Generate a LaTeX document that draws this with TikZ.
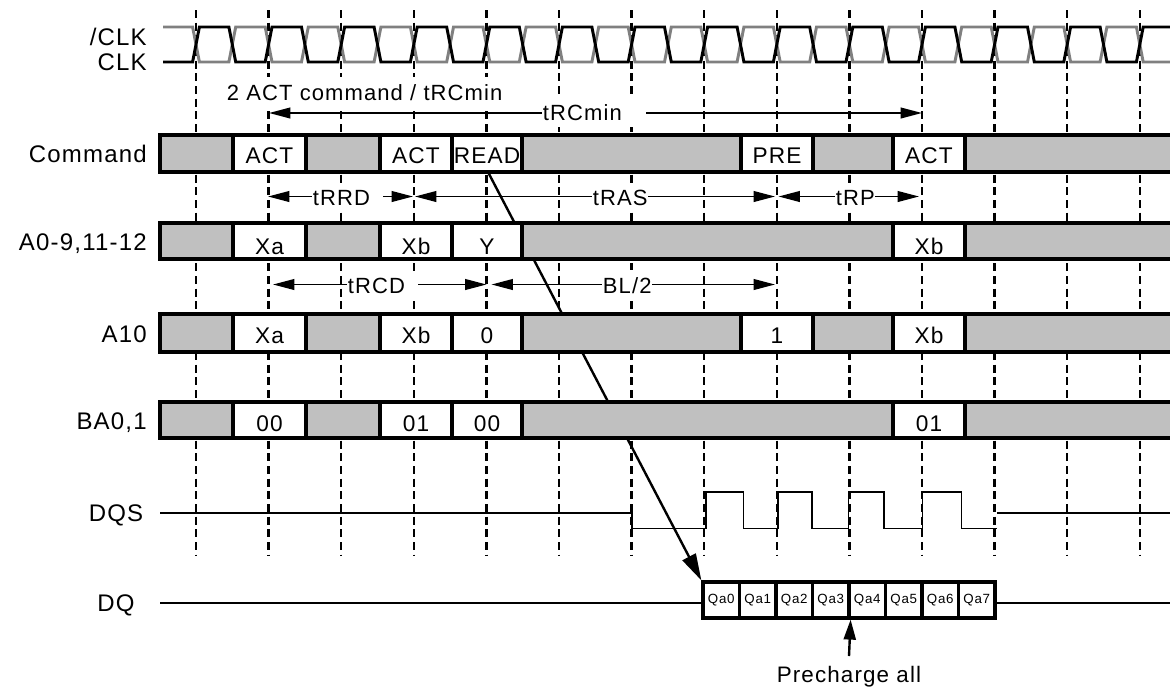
\documentclass[tikz,border=0pt]{standalone}
\usepackage{fontspec}
\setmainfont{Liberation Sans}[LetterSpace=5]
\usetikzlibrary{arrows.meta}
\pgfdeclarelayer{bg}
\pgfsetlayers{bg,main}
\definecolor{cellgray}{RGB}{192,192,192}
\definecolor{clkgray}{RGB}{128,128,128}
\tikzset{
  sig/.style={font=\fontsize{18}{21}\selectfont, inner sep=0pt, anchor=base east},
  celltxt/.style={font=\fontsize{17}{20}\selectfont, inner sep=0pt, anchor=base},
  tlabel/.style={font=\fontsize{16.5}{19}\selectfont, fill=white, inner xsep=0.5pt, inner ysep=5pt, anchor=base west},
  gridline/.style={line width=1.8pt, dash pattern=on 6pt off 3.5pt},
  clk/.style={line width=2.2pt, line join=miter},
  dim/.style={line width=1.4pt, {Triangle[length=16pt,width=8pt]}-{Triangle[length=16pt,width=8pt]}},
  cellbox/.style={draw, line width=2.4pt},
  qa/.style={draw, fill=white, line width=2.4pt, minimum width=27.4pt, minimum height=27pt, inner sep=0pt, font=\fontsize{10}{11}\selectfont},
}
\newcommand\mycells[4]{%
  \foreach \a/\b/\f/\t in {#4} {
    \draw[cellbox, fill=\f] (\a,#1) rectangle (\b,#2);
    \node[celltxt] (c-\a-#1) at ({(\a+\b)/2},#3) {\t};
  }%
}
\begin{document}
\begin{tikzpicture}[x=0.75pt,y=-0.75pt]
\useasboundingbox (0,0) rectangle (1170,686);
\clip (0,0) rectangle (1170,686);

% clock waveforms
\draw[clk, clkgray] (163,27) \foreach \k in {0,...,13} { -- ({196+72.6*\k-3.4},27) -- ({196+72.6*\k+3.4},62) -- ({232.3+72.6*\k-3.4},62) -- ({232.3+72.6*\k+3.4},27) };
\draw[clk, black] (163,62) \foreach \k in {0,...,13} { -- ({196+72.6*\k-3.4},62) -- ({196+72.6*\k+3.4},27) -- ({232.3+72.6*\k-3.4},27) -- ({232.3+72.6*\k+3.4},62) };
\node[sig] (nclk) at (147,45) {/CLK};
\node[sig] (clk) at (147,70) {CLK};

% signal rows
\mycells{135}{172}{163}{160/233/cellgray/, 233/306/white/ACT, 306/380/cellgray/, 380/452/white/ACT, 452/522/white/READ, 522/741/cellgray/, 741/813/white/PRE, 813/893/cellgray/, 893/965/white/ACT, 965/1180/cellgray/}
\mycells{223}{259}{254.5}{160/233/cellgray/, 233/306/white/Xa, 306/380/cellgray/, 380/452/white/Xb, 452/522/white/Y, 522/893/cellgray/, 893/965/white/Xb, 965/1180/cellgray/}
\mycells{314}{352}{343}{160/233/cellgray/, 233/306/white/Xa, 306/380/cellgray/, 380/452/white/Xb, 452/522/white/0, 522/741/cellgray/, 741/813/white/1, 813/893/cellgray/, 893/965/white/Xb, 965/1180/cellgray/}
\mycells{402}{438}{431}{160/233/cellgray/, 233/306/white/00, 306/380/cellgray/, 380/452/white/01, 452/522/white/00, 522/893/cellgray/, 893/965/white/01, 965/1180/cellgray/}

\node[sig] (lcmd) at (147,162) {Command};
\node[sig] (la0) at (147,250) {A0-9,11-12};
\node[sig] (la10) at (147,342) {A10};
\node[sig] (lba) at (147,429) {BA0,1};
\node[sig, anchor=base] (ldqs) at (116,521) {DQS};
\node[sig, anchor=base] (ldq) at (116,611) {DQ};

% timing dimensions
\coordinate (rc1) at (269,113); \coordinate (rc2) at (922,113);
\coordinate (rr1) at (268,196.5); \coordinate (rr2) at (413,196.5);
\coordinate (ra1) at (415,196.5); \coordinate (ra2) at (775,196.5);
\coordinate (rp1) at (778.5,196.5); \coordinate (rp2) at (919,196.5);
\coordinate (cd1) at (273,284.5); \coordinate (cd2) at (486.5,284.5);
\coordinate (bl1) at (491.5,284.5); \coordinate (bl2) at (775,284.5);
\draw[dim] (rc1) -- (rc2);
\draw[dim] (rr1) -- (rr2);
\draw[dim] (ra1) -- (ra2);
\draw[dim] (rp1) -- (rp2);
\draw[dim] (cd1) -- (cd2);
\draw[dim] (bl1) -- (bl2);
\node[tlabel] (t2act) at (226,100) {2 ACT command / tRCmin};
\node[tlabel] (trc) at (542,120) {tRCmin\kern18pt};
\node[tlabel] (trrd) at (312,205) {tRRD\kern9pt};
\node[tlabel] (tras) at (592,205) {tRAS};
\node[tlabel] (trp) at (835,205) {tRP};
\node[tlabel] (trcd) at (347,293) {tRCD\kern9pt};
\node[tlabel] (tbl) at (602,293) {BL/2};

% DQS
\draw[line width=1.3pt] (160,513) -- (631.7,513) -- (631.7,528.5) -- (706,528.5) -- (706,492) -- (743.5,492) -- (743.5,528.5) -- (778,528.5) -- (778,492) -- (812,492) -- (812,528.5) -- (848.5,528.5) -- (848.5,492) -- (884,492) -- (884,528.5) -- (922.5,528.5) -- (922.5,492) -- (961.5,492) -- (961.5,528.5) -- (997,528.5);
\draw[line width=1.3pt] (997,513) -- (1180,513);

% DQ
\foreach \i in {0,...,7} \node[qa] (qa\i) at ({703+36.5*\i+18.25},600) {Qa\i};
\coordinate (dqa) at (160,603); \coordinate (dqb) at (1180,603);
\draw[line width=1.8pt] (dqa) -- (dqa -| qa0.west);
\draw[line width=1.8pt] (qa7.east |- dqb) -- (dqb);

% Precharge all
\node[font=\fontsize{16.8}{20}\selectfont, inner sep=0pt, anchor=base] (prech) at (849,682) {Precharge all};
\coordinate (pfoot) at (849,656);
\draw[line width=1.8pt, -{Triangle[length=15pt,width=9pt]}] (pfoot) -- (qa3.south east);

% background: grid and READ arrow
\begin{pgfonlayer}{bg}
\foreach \k in {0,...,13} \draw[gridline] ({196+72.6*\k},10) -- ({196+72.6*\k},556);
\coordinate (readfoot) at (488,172);
\draw[line width=1.8pt, -{Triangle[length=20pt,width=11pt]}] (readfoot) -- (qa0.north west);
\end{pgfonlayer}
\end{tikzpicture}
\end{document}
